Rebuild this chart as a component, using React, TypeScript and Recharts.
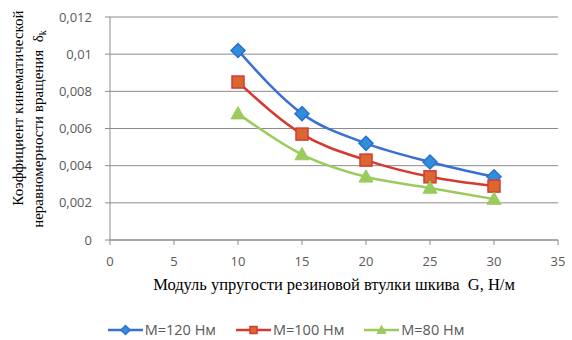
import React from 'react';
import { LineChart, Line, XAxis, YAxis, CartesianGrid, Legend } from 'recharts';

// modulus of the rubber bushing, N/m
const modulusG = [10, 15, 20, 25, 30];
// kinematic irregularity coefficient for each torque
const m120 = [0.0102, 0.0068, 0.0052, 0.0042, 0.0034];
const m100 = [0.0085, 0.0057, 0.0043, 0.0034, 0.0029];
const m80 = [0.0068, 0.0046, 0.0034, 0.0028, 0.0022];

const xTicks = [0, 5, 10, 15, 20, 25, 30, 35];
const yTicks = [0, 0.002, 0.004, 0.006, 0.008, 0.01, 0.012];

const data = modulusG.map((g, i) => ({ g, m120: m120[i], m100: m100[i], m80: m80[i] }));

const series = [
  { key: 'm120', name: 'M=120 Нм', line: '#3a6fd3', fill: '#2f8fd8', edge: '#2f6fd3', shape: 'diamond' },
  { key: 'm100', name: 'M=100 Нм', line: '#d53a31', fill: '#d8682f', edge: '#d53a36', shape: 'square' },
  { key: 'm80', name: 'M=80 Нм', line: '#9bcb5c', fill: '#9bcb5c', edge: '#9bcb5c', shape: 'triangle' },
];

const tickFont = { fontFamily: '"Open Sans", sans-serif', fontSize: 13, fill: '#595959' };
const serif = '"Liberation Serif", "Times New Roman", serif';

function Marker({ cx, cy, shape, fill, edge, r = 7 }: any) {
  if (cx == null || cy == null) return null;
  if (shape === 'diamond') {
    return <polygon points={`${cx},${cy - r} ${cx + r},${cy} ${cx},${cy + r} ${cx - r},${cy}`} fill={fill} stroke={edge} strokeWidth={1.5} />;
  }
  if (shape === 'square') {
    const s = r - 1;
    return <rect x={cx - s} y={cy - s} width={s * 2} height={s * 2} fill={fill} stroke={edge} strokeWidth={1.5} />;
  }
  return <polygon points={`${cx},${cy - r} ${cx + r},${cy + r * 0.75} ${cx - r},${cy + r * 0.75}`} fill={fill} stroke={edge} strokeWidth={1} />;
}

function fmt(v: number) {
  return String(Number(v.toFixed(3))).replace('.', ',');
}

function YTitle() {
  return (
    <g fontFamily={serif} fontSize={15} fill="#000">
      <text transform="translate(18,108) rotate(-90)" textAnchor="middle" dominantBaseline="central">
        Коэффициент кинематической
      </text>
      <text transform="translate(38,129) rotate(-90)" textAnchor="middle" dominantBaseline="central">
        {'неравномерности вращения\u00a0\u00a0δ'}<tspan fontSize={10} dy={4}>k</tspan>
      </text>
    </g>
  );
}

function XTitle() {
  return (
    <text x={334} y={290} textAnchor="middle" fontFamily={serif} fontSize={16.5} fill="#000">
      {'Модуль упругости резиновой втулки шкива\u00a0\u00a0G, Н/м'}
    </text>
  );
}

function LegendBox() {
  return (
    <div style={{ display: 'flex', justifyContent: 'center', gap: 20, fontFamily: '"Open Sans", sans-serif', fontSize: 14.5, color: '#595959' }}>
      {series.map((s) => (
        <div key={s.key} style={{ display: 'flex', alignItems: 'center' }}>
          <svg width={35} height={16}>
            <line x1={0} y1={8} x2={35} y2={8} stroke={s.line} strokeWidth={2.5} />
            <Marker cx={17.5} cy={8} shape={s.shape} fill={s.fill} edge={s.edge} r={4.5} />
          </svg>
          <span style={{ marginLeft: 2 }}>{s.name}</span>
        </div>
      ))}
    </div>
  );
}

export default function App() {
  return (
    <div style={{ position: 'absolute', left: 0, top: 0, width: 572, height: 340, background: '#fff' }}>
      <LineChart width={572} height={340} data={data} margin={{ top: 17, right: 14, bottom: 70, left: 40 }}>
        <CartesianGrid vertical={false} stroke="#8c8c8c" strokeWidth={1} />
        <XAxis
          dataKey="g"
          type="number"
          domain={[0, 35]}
          ticks={xTicks}
          height={30}
          tick={tickFont}
          tickSize={5}
          tickMargin={12}
          stroke="#8c8c8c"
          label={{ content: () => <XTitle /> }}
        />
        <YAxis
          type="number"
          domain={[0, 0.012]}
          ticks={yTicks}
          width={70}
          tick={tickFont}
          tickFormatter={fmt}
          tickSize={5}
          tickMargin={13}
          stroke="#8c8c8c"
          label={{ content: () => <YTitle /> }}
        />
        {series.map((s) => (
          <Line
            key={s.key}
            dataKey={s.key}
            name={s.name}
            type="monotone"
            stroke={s.line}
            strokeWidth={2.5}
            isAnimationActive={false}
            dot={(p: any) => <Marker key={`${s.key}-${p.index}`} cx={p.cx} cy={p.cy} shape={s.shape} fill={s.fill} edge={s.edge} />}
            activeDot={false}
          />
        ))}
        <Legend
          layout="horizontal"
          verticalAlign="middle"
          align="center"
          wrapperStyle={{ top: 320, left: 0, width: 572 }}
          content={() => <LegendBox />}
        />
      </LineChart>
    </div>
  );
}
